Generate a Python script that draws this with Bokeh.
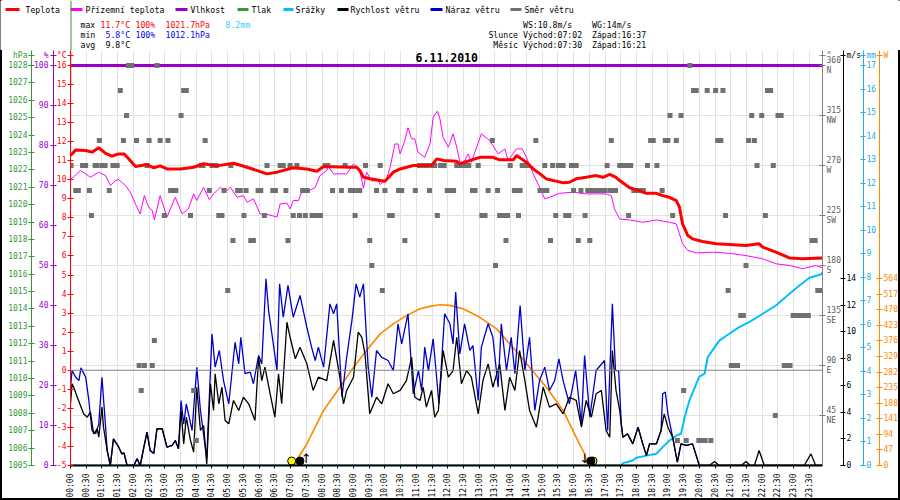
import math
from bokeh.plotting import figure
from bokeh.models import Range1d, LinearAxis, FixedTicker, Grid, Span, Label
from bokeh.embed import file_html
from bokeh.resources import INLINE
from bokeh.core.properties import value
from bokeh.core.enums import SpatialUnits

MONO = "DejaVu Sans Mono"

# ---------------- data ----------------
TITLE = "6.11.2010"
legend_names = ["Teplota", "Přízemní teplota", "Vlhkost", "Tlak", "Srážky",
                "Rychlost větru", "Náraz větru", "Směr větru"]
C_RED, C_MAG, C_PUR, C_GRN = "#ff0000", "#ff00ff", "#9900cc", "#339933"
C_LBLUE, C_BLK, C_BLUE, C_GRAY = "#00bfff", "#000000", "#0000cc", "#707070"
C_ORANGE, C_DIRAX = "#ff8800", "#808080"
legend_colors = [C_RED, C_MAG, C_PUR, C_GRN, C_LBLUE, C_BLK, C_BLUE, C_GRAY]

T_MAX, T_MIN, T_AVG = 11.7, 5.8, 9.8
H_MAX, H_MIN = 100, 100
P_MAX, P_MIN = 1021.7, 1012.1
RAIN_SUM = 8.2
WS_MAX, WG_MAX = 10.8, 14
SUN_RISE, SUN_SET = "07:02", "16:37"
MOON_RISE, MOON_SET = "07:30", "16:21"
sun_rise_min, sun_set_min = 422, 997
moon_rise_min, moon_set_min = 450, 981
X_CAPTION = "čas"

time_ticks = list(range(0, 1435, 30))
time_labels = [f"{h:02d}:{m:02d}" for h in range(24) for m in (0, 30)]

temp_min = [0,10,29,41,54,67,79,92,102,111,124,146,159,171,184,210,235,254,279,311,337,362,375,394,425,451,470,483,533,546,552,559,572,591,600,616,629,654,689,699,712,737,743,781,806,819,845,851,870,883,896,908,921,927,940,952,965,984,1003,1016,1029,1041,1048,1067,1080,1099,1118,1130,1143,1156,1162,1168,1178,1187,1206,1232,1257,1289,1314,1321,1346,1372,1397,1435]
temp_val = [11.27,11.57,11.54,11.45,11.68,11.39,11.24,11.36,11.36,11.10,10.70,10.80,10.63,10.73,10.57,10.57,10.66,10.84,10.73,10.87,10.66,10.43,10.31,10.40,10.63,10.57,10.45,10.70,10.66,10.66,10.49,10.13,10.05,9.96,9.92,10.40,10.57,10.75,10.75,11.10,11.01,10.97,10.84,11.18,11.18,11.05,11.05,11.27,10.92,10.57,10.31,10.05,9.96,9.93,9.84,9.87,10.05,10.13,10.22,10.13,10.28,10.13,9.96,9.58,9.47,9.29,9.29,9.17,9.08,8.91,8.56,7.68,7.07,6.90,6.76,6.64,6.60,6.55,6.64,6.46,6.20,5.90,5.85,5.90]

app_min = [0,19,29,38,54,67,76,86,92,105,114,124,133,141,149,156,160,171,184,200,213,225,235,241,254,265,273,286,295,305,318,330,337,349,362,378,394,400,413,419,425,435,441,457,467,476,489,492,502,527,540,552,559,565,575,587,591,603,610,619,625,629,638,644,651,657,663,676,686,692,700,705,711,721,730,737,743,749,759,765,784,800,816,829,835,851,862,870,883,895,905,914,933,959,984,1022,1032,1038,1048,1067,1092,1118,1143,1156,1162,1168,1178,1194,1225,1257,1289,1321,1346,1372,1397,1422,1435]
app_val = [10.01,10.49,10.31,10.13,10.40,10.22,9.70,9.96,10.01,9.70,9.35,8.73,8.21,9.17,8.56,8.39,7.89,9.17,8.04,9.08,8.21,8.47,9.26,8.91,9.61,8.95,9.26,9.61,9.35,9.61,9.08,9.17,8.82,9.00,8.21,8.17,8.04,8.73,8.78,8.47,8.91,8.91,9.35,9.44,9.61,10.22,10.49,10.70,10.31,10.31,10.84,10.49,9.56,10.40,9.93,9.96,9.75,10.05,10.66,11.88,11.88,11.36,12.06,12.73,12.15,12.15,11.45,11.18,11.88,13.28,13.60,13.19,12.23,11.71,12.41,11.71,10.92,10.84,11.36,10.92,12.41,12.06,11.36,11.62,11.01,11.62,11.62,11.18,10.31,9.61,9.00,9.08,9.29,9.35,9.26,9.26,9.17,8.47,7.94,7.89,7.77,7.89,7.77,7.68,7.16,6.64,6.29,6.16,6.20,6.14,6.02,5.85,5.59,5.50,5.33,5.50,5.38]

hum_min = [0, 1435]
hum_val = [100, 100]

press_min = [0, 0]
press_val = [1029.5, 1026.8]

ws_min = [0,3,6,13,19,25,32,38,44,51,54,60,63,70,76,82,92,98,102,108,121,127,133,140,146,152,159,165,175,184,194,200,206,211,216,221,229,235,241,248,254,260,267,273,276,283,289,295,302,311,321,330,340,352,359,365,371,381,390,397,403,413,419,429,438,451,463,473,489,502,514,521,527,540,549,556,562,571,584,594,606,616,629,641,651,657,667,673,679,689,695,702,711,721,730,737,746,756,765,778,787,797,806,819,829,838,848,857,867,876,889,902,914,927,940,952,965,975,984,994,1003,1013,1022,1029,1034,1041,1048,1054,1063,1073,1083,1092,1099,1105,1118,1127,1133,1140,1149,1158,1165,1175,1187,1200,1219,1229,1238,1280,1289,1297,1305,1314,1324,1400,1413,1422,1435]
ws_val = [4.62,6.12,5.86,5.11,4.49,3.87,3.62,3.99,2.37,2.75,2.12,4.37,2.87,1.12,0,2.0,1.37,0.87,0.95,0,0,0.5,0,1.37,2.5,1.12,0.9,2.75,2.75,1.37,1.5,1.87,1.25,4.12,1.62,3.62,1.87,1.0,5.86,2.62,3.0,0.12,6.12,4.12,6.87,4.62,5.86,3.37,3.12,4.87,4.12,5.11,4.62,3.37,8.1,6.36,7.36,5.37,3.62,6.87,4.62,10.73,9.6,7.99,8.86,7.61,5.62,6.61,6.36,9.36,6.61,4.62,5.62,6.61,9.98,9.6,8.36,3.87,5.11,4.62,6.12,5.37,5.62,6.36,8.1,5.11,4.87,5.86,4.37,5.62,3.62,4.12,8.61,6.61,7.11,9.6,6.12,7.11,6.61,3.87,6.36,7.61,5.86,7.61,4.12,6.61,5.62,8.61,6.36,4.12,2.87,5.86,4.37,4.62,3.87,5.11,4.87,2.87,4.87,3.62,5.37,5.62,2.62,2.12,8.61,5.62,4.12,2.12,2.37,1.62,2.87,1.62,0.75,1.62,1.62,2.62,3.87,2.87,2.12,0.25,1.62,1.5,1.62,0,0,0.3,0,0,0.3,0,0,1.12,0,0,0.87,0,0]

wg_min = [0,3,10,16,20,29,35,41,48,54,60,67,70,76,82,92,98,102,108,121,127,133,140,146,152,159,165,175,184,194,200,206,211,216,221,232,241,248,260,270,276,284,292,302,314,321,325,333,343,349,359,365,373,378,387,394,399,406,415,425,438,451,460,467,473,483,495,502,508,518,527,537,545,552,559,568,575,584,594,606,616,625,632,644,654,664,670,676,683,692,698,703,714,724,730,735,743,752,762,768,778,784,797,806,816,822,832,841,848,858,867,876,886,895,905,914,924,932,940,952,964,975,981,991,1003,1019,1025,1034,1040,1046,1051,1054,1063,1073,1083,1092,1099,1105,1118,1127,1130,1135,1140,1149,1158,1165,1175,1187,1200,1435]
wg_val = [5.86,7.11,6.61,6.36,7.31,6.61,4.87,2.62,2.37,3.12,6.61,2.87,1.12,0,2.0,1.37,0.87,0.95,0,0,0.5,0,1.37,2.5,1.12,0.9,2.75,2.75,1.37,1.5,1.87,1.25,4.87,3.1,4.62,2.62,7.36,4.12,0.5,9.86,7.36,8.61,6.36,4.62,9.23,7.61,9.6,6.87,6.99,6.12,8.24,7.61,13.98,11.6,9.11,7.11,13.6,11.1,13.48,11.1,12.73,10.35,8.86,7.86,8.86,7.36,12.1,11.36,12.1,5.11,8.1,10.86,13.6,12.6,13.6,7.36,5.11,8.61,8.1,7.86,7.11,10.61,9.11,11.36,5.37,7.11,5.62,8.86,7.11,9.48,6.87,4.62,11.36,10.61,9.11,12.98,8.36,10.61,8.61,8.98,4.87,8.86,10.61,9.6,5.86,10.61,7.11,9.6,6.87,11.98,7.11,9.6,4.12,6.36,7.36,5.62,6.36,7.99,6.36,4.62,7.11,3.12,8.24,3.62,7.11,7.86,2.62,12.1,7.11,7.11,3.12,2.12,2.37,1.62,2.87,1.62,0.75,1.62,1.62,2.62,5.37,5.5,3.87,2.12,0.25,1.62,1.5,1.62,0,0]

sun_min = [425,451,483,514,540,565,591,616,641,667,686,705,724,749,781,813,844,876,908,940,965,981,987,1435]
sun_w = [0,65,166,236,296,347,397,427,452,473,480,485,483,473,447,412,357,296,236,166,85,35,0,0]

rain_min = [0,1051,1054,1073,1080,1099,1118,1130,1143,1156,1165,1172,1181,1194,1200,1210,1216,1225,1238,1257,1276,1295,1321,1346,1372,1391,1410,1432,1435]
rain_mm = [0,0,0.1,0.21,0.33,0.42,0.5,0.78,1.06,1.27,1.35,2.05,2.76,3.47,3.78,3.9,4.6,4.89,5.31,5.6,5.88,6.09,6.45,6.8,7.3,7.65,7.98,8.12,8.2]

dir_min = [1,10,15,23,29,36,40,47,51,55,61,66,74,81,85,89,95,101,107,111,117,126,131,135,141,146,150,156,160,165,171,179,186,191,196,201,211,216,221,229,235,240,249,253,257,265,270,278,283,289,293,300,306,310,319,324,331,335,344,349,358,363,370,375,386,391,400,406,411,415,419,425,432,437,443,448,452,461,467,472,477,486,491,500,517,524,534,539,543,548,552,563,571,575,584,591,595,600,609,614,626,632,638,658,666,671,675,681,685,691,695,700,706,713,719,725,731,737,743,749,754,760,767,772,778,785,791,797,805,811,815,819,825,831,834,839,847,852,855,858,862,867,872,888,896,901,905,909,916,920,926,931,935,940,945,951,956,960,965,969,974,982,987,991,996,1002,1008,1013,1019,1024,1029,1032,1034,1040,1048,1052,1057,1062,1065,1069,1075,1081,1087,1093,1101,1107,1112,1119,1129,1135,1140,1144,1149,1156,1158,1165,1170,1175,1182,1189,1194,1199,1205,1211,1215,1222,1231,1235,1241,1245,1250,1255,1261,1267,1273,1279,1284,1289,1294,1300,1305,1310,1319,1326,1330,1336,1341,1345,1350,1356,1362,1368,1373,1379,1385,1391,1396,1402,1408,1415,1421,1426,1431,1435]
dir_deg = [270,247.5,247.5,270,270,247.5,225,270,270,292.5,270,270,247.5,270,270,270,337.5,292.5,315,360,360,292.5,90,67.5,90,270,292.5,90,112.5,360,292.5,225,292.5,247.5,247.5,247.5,315,337.5,337.5,225,67.5,22.5,270,270,292.5,247.5,270,270,225,225,247.5,157.5,270,202.5,247.5,247.5,225,247.5,202.5,202.5,247.5,247.5,225,270,247.5,247.5,270,270,247.5,202.5,270,225,270,225,247.5,225,247.5,225,225,225,225,270,270,247.5,247.5,270,247.5,247.5,225,247.5,247.5,270,202.5,180,247.5,270,157.5,247.5,225,225,247.5,247.5,202.5,247.5,270,270,270,270,247.5,270,270,225,270,270,247.5,247.5,247.5,270,270,270,270,270,247.5,247.5,270,225,225,247.5,292.5,180,247.5,225,225,202.5,225,270,247.5,247.5,225,247.5,270,270,270,292.5,247.5,247.5,270,247.5,202.5,270,225,270,270,270,225,225,270,247.5,270,202.5,247.5,225,247.5,202.5,247.5,247.5,247.5,247.5,247.5,270,247.5,292.5,247.5,247.5,270,270,270,270,225,270,247.5,247.5,247.5,247.5,270,292.5,292.5,270,247.5,292.5,292.5,315,225,292.5,22.5,315,67.5,22.5,360,337.5,337.5,22.5,22.5,22.5,337.5,22.5,337.5,292.5,292.5,337.5,225,157.5,90,90,90,135,135,180,292.5,315,292.5,270,315,225,337.5,337.5,270,45,315,315,90,90,90,135,135,135,135,135,135,202.5,202.5,157.5,157.5,157.5]

c_ticks = list(range(-5, 17))
pct_ticks = list(range(0, 101, 10))
hpa_ticks = list(range(1005, 1029))
dir_ticks = [45, 90, 135, 180, 225, 270, 315, 360]
dir_names = ["NE", "E", "SE", "S", "SW", "W", "NW", "N"]
ms_ticks = list(range(0, 15, 2))
mm_ticks = list(range(0, 18))
w_ticks = list(range(0, 565, 47))

# ---------------- layout constants ----------------
FRAC_TOP = 400 / 415
FRAC_WIND = 187 / 415
FRAC_UNIT = 410 / 415
FRAME_H = 415.0
EDGE = {"box-shadow": "inset 2px 0 0 #000, inset -2px 0 0 #000"}
EDGE_B = {"box-shadow": "inset 2px 0 0 #000, inset -2px 0 0 #000, inset 0 -2px 0 #000"}


def top_of(start, ref, frac):
    return start + (ref - start) / frac


def unit_at(start, top):
    return start + FRAC_UNIT * (top - start)


C_MIN = -5
C_TOP = top_of(C_MIN, 16, FRAC_TOP)
P_TOP = top_of(0, 100, FRAC_TOP)
H_TOP = top_of(1005, 1028, FRAC_TOP)
D_TOP = top_of(0, 360, FRAC_TOP)
MM_TOP = top_of(0, 17, FRAC_TOP)
MS_TOP = top_of(0, 14, FRAC_WIND)
W_TOP = top_of(0, 564, FRAC_WIND)

# ---------------- header ----------------
HW, HH = 900, 50
h = figure(width=HW, height=HH, x_range=Range1d(0, HW), y_range=Range1d(HH, 0),
           output_backend="svg", toolbar_location=None, min_border=0,
           x_axis_location=None, y_axis_location=None, outline_line_color=None,
           border_fill_color=None, styles=EDGE)
h.grid.visible = False
h.add_layout(Span(location=70.5, dimension="height", line_color=C_GRN, line_width=1))

leg_x0 = [5, 70, 175, 237, 283, 337, 430, 510]
leg_x1 = [19, 82, 187, 248, 293, 348, 442, 521]
leg_tx = [25, 85, 190, 251, 295, 350, 445, 524]
LEG_Y = 9
h.segment(x0=leg_x0, y0=[LEG_Y] * 8, x1=leg_x1, y1=[LEG_Y] * 8,
          line_color=legend_colors, line_width=3)
h.text(x=leg_tx, y=[LEG_Y] * 8, text=legend_names, text_font=value(MONO),
       text_font_size="8.2px", text_baseline="middle", text_color="black")

R1, R2, R3 = 24, 34, 44
st_text = ["max", f"{T_MAX}°C", f"{H_MAX}%", f"{P_MAX}hPa", f"{RAIN_SUM}mm",
           "min", f"{T_MIN}°C", f"{H_MIN}%", f"{P_MIN}hPa",
           "avg", f"{T_AVG}°C",
           f"WS:{WS_MAX}m/s", f"WG:{WG_MAX}m/s",
           f"Východ:{SUN_RISE}", f"Západ:{SUN_SET}",
           f"Východ:{MOON_RISE}", f"Západ:{MOON_SET}"]
st_x = [80, 100, 135, 165, 225, 80, 105, 135, 165, 80, 105,
        522.5, 591.5, 522.5, 591.5, 522.5, 591.5]
st_y = [R1] * 5 + [R2] * 4 + [R3] * 2 + [R1, R1, R2, R2, R3, R3]
st_c = ["black", C_RED, C_RED, C_RED, "#33ccff", "black", "#0000ff", "#0000ff", "#0000ff",
        "black", "black"] + ["black"] * 6
h.text(x=st_x, y=st_y, text=st_text, text_color=st_c, text_font=value(MONO),
       text_font_size="8.2px", text_baseline="middle")
h.text(x=[517.5, 517.5], y=[R2, R3], text=["Slunce", "Měsíc"], text_color="black",
       text_font=value(MONO), text_font_size="8.2px", text_baseline="middle",
       text_align="right")

# ---------------- main plot ----------------
p = figure(width=900, height=450, x_range=Range1d(0, 1435), y_range=Range1d(C_MIN, C_TOP),
           output_backend="svg", toolbar_location=None,
           min_border_left=70, min_border_right=77, min_border_top=0, min_border_bottom=0,
           outline_line_color=None, background_fill_color="white",
           border_fill_color=None, styles=EDGE_B)
p.extra_y_ranges = {
    "pct": Range1d(0, P_TOP), "hpa": Range1d(1005, H_TOP), "dir": Range1d(0, D_TOP),
    "ms": Range1d(0, MS_TOP), "mm": Range1d(0, MM_TOP), "w": Range1d(0, W_TOP),
}


def style_axis(ax, color, label_color=None, tin=3, tout=3, standoff=1, size="8px"):
    ax.axis_line_color = color
    ax.major_tick_line_color = color
    ax.major_label_text_color = label_color or color
    ax.major_label_text_font = MONO
    ax.major_label_text_font_size = size
    ax.minor_tick_line_color = None
    ax.major_tick_in = tin
    ax.major_tick_out = tout
    ax.major_label_standoff = standoff


def ticks_with_unit(ticks, labels, unit_val, unit_text):
    tk = list(ticks) + [unit_val]
    ov = {t: l for t, l in zip(ticks, labels)}
    ov[unit_val] = unit_text
    return FixedTicker(ticks=tk), ov


cax = p.yaxis[0]
style_axis(cax, C_RED)
cax.ticker, cax.major_label_overrides = ticks_with_unit(
    c_ticks, [str(t) for t in c_ticks], round(unit_at(C_MIN, C_TOP), 4), "°C")

pax = LinearAxis(y_range_name="pct")
style_axis(pax, C_PUR, standoff=2)
pax.ticker, pax.major_label_overrides = ticks_with_unit(
    pct_ticks, [str(t) for t in pct_ticks], round(unit_at(0, P_TOP), 4), "%")
p.add_layout(pax, "left")

hax = LinearAxis(y_range_name="hpa")
style_axis(hax, C_GRN, standoff=1)
hax.ticker, hax.major_label_overrides = ticks_with_unit(
    hpa_ticks, [str(t) for t in hpa_ticks], round(unit_at(1005, H_TOP), 4), "hPa")
p.add_layout(hax, "left")

dax = LinearAxis(y_range_name="dir")
style_axis(dax, C_DIRAX, label_color="#606060")
dax.ticker, dax.major_label_overrides = ticks_with_unit(
    dir_ticks, [f"{d}\n{n}" for d, n in zip(dir_ticks, dir_names)],
    round(unit_at(0, D_TOP), 4), "°")
p.add_layout(dax, "right")

msax = LinearAxis(y_range_name="ms")
style_axis(msax, C_BLK, tout=2, standoff=1)
msax.ticker, msax.major_label_overrides = ticks_with_unit(
    ms_ticks, [str(t) for t in ms_ticks], round(unit_at(0, MS_TOP), 4), "m/s")
p.add_layout(msax, "right")

mmax = LinearAxis(y_range_name="mm")
style_axis(mmax, "#1aaeea", tout=2, standoff=1)
mmax.ticker, mmax.major_label_overrides = ticks_with_unit(
    mm_ticks, [str(t) for t in mm_ticks], round(unit_at(0, MM_TOP), 4), "mm")
p.add_layout(mmax, "right")

wax = LinearAxis(y_range_name="w")
style_axis(wax, C_ORANGE)
wax.ticker, wax.major_label_overrides = ticks_with_unit(
    w_ticks, [str(t) for t in w_ticks], round(unit_at(0, W_TOP), 4), "W")
p.add_layout(wax, "right")

xax = p.xaxis[0]
style_axis(xax, C_BLK, tin=0, tout=3, standoff=5)
xax.axis_line_width = 2
xax.ticker = FixedTicker(ticks=time_ticks)
xax.major_label_overrides = {t: l for t, l in zip(time_ticks, time_labels)}
xax.major_label_orientation = math.pi / 2

p.xgrid.ticker = FixedTicker(ticks=time_ticks)
p.xgrid.grid_line_color = "#e2e2e2"
p.ygrid.visible = False
p.add_layout(Grid(dimension=1, ticker=FixedTicker(ticks=dir_ticks), y_range_name="dir",
                  grid_line_color="#e2e2e2"))
p.add_layout(Span(location=0, dimension="width", line_color="#808080", line_width=1))

# series
p.line(sun_min, sun_w, y_range_name="w", line_color=C_ORANGE, line_width=1.6)
p.line(rain_min, rain_mm, y_range_name="mm", line_color=C_LBLUE, line_width=2)
p.line(wg_min, wg_val, y_range_name="ms", line_color=C_BLUE, line_width=1.3)
p.line(ws_min, ws_val, y_range_name="ms", line_color=C_BLK, line_width=1.3)
p.line(hum_min, hum_val, y_range_name="pct", line_color=C_PUR, line_width=3)
p.line(press_min, press_val, y_range_name="hpa", line_color=C_GRN, line_width=1.5)
p.line(app_min, app_val, line_color=C_MAG, line_width=1)
p.scatter(dir_min, dir_deg, y_range_name="dir", marker="square", size=5,
          fill_color=C_GRAY, line_color=None)
p.line(temp_min, temp_val, line_color=C_RED, line_width=3)

px_c = (C_TOP - C_MIN) / FRAME_H
mk_y = C_MIN + 4.5 * px_c
p.scatter([sun_rise_min, sun_set_min], [mk_y, mk_y], size=8, fill_color="#ffff00",
          line_color="black", line_width=1)
p.scatter([moon_rise_min - 12, moon_set_min + 12], [mk_y, mk_y], size=8,
          fill_color="black", line_color="black")
p.text(x=[moon_rise_min, moon_set_min], y=[C_MIN, C_MIN], text=["↑", "↓"],
       text_font=value("DejaVu Sans"), text_font_size="13px", text_align="center",
       text_baseline="bottom", text_color="black")

p.text(x=[718], y=[C_MIN + (C_TOP - C_MIN) * (408 / 415)], text=[TITLE],
       text_font=value(MONO), text_font_style="bold", text_font_size="11.5px",
       text_align="center", text_baseline="middle", text_color="black")

if "canvas" in SpatialUnits:
    cas = Label(x=833, y=423, x_units="canvas", y_units="canvas", text=X_CAPTION,
                text_font=MONO, text_font_size="8.5px", text_font_style="italic",
                text_baseline="middle", text_color="black")
else:
    cas = Label(x=763, y=-8, x_units="screen", y_units="screen", text=X_CAPTION,
                text_font=MONO, text_font_size="8.5px", text_font_style="italic",
                text_baseline="middle", text_color="black")
p.add_layout(cas)

open("out.html", "w").write(file_html([h, p], INLINE))
